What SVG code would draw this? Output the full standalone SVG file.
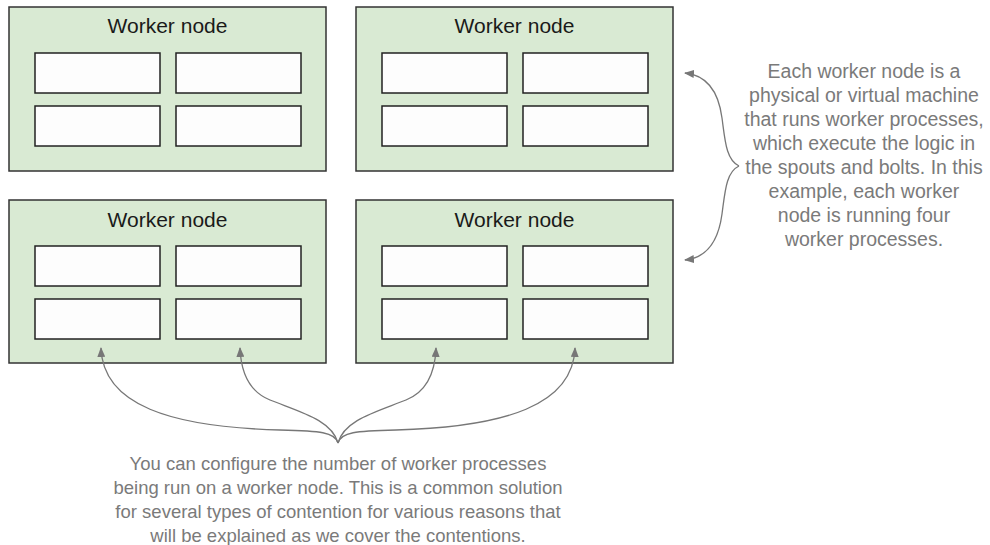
<svg xmlns="http://www.w3.org/2000/svg" width="990" height="545" viewBox="0 0 990 545">
  <defs>
    <style>
      .node { fill: #d9ead3; stroke: #333333; stroke-width: 1.5; }
      .proc { fill: #fdfdfd; stroke: #222222; stroke-width: 1.5; }
      .title { font-family: "Liberation Sans", Arial, sans-serif; font-size: 21px; fill: #1a1a1a; text-anchor: middle; }
      .note { font-family: "Liberation Sans", Arial, sans-serif; fill: #7a7a7a; text-anchor: middle; }
      .conn { fill: none; stroke: #777777; stroke-width: 1.3; marker-end: url(#arrow); }
    </style>
    <marker id="arrow" markerWidth="10" markerHeight="8" refX="9" refY="4" orient="auto" markerUnits="userSpaceOnUse">
      <path d="M0,0 L10,4 L0,8 Z" fill="#777777"/>
    </marker>
  </defs>

  <g id="node-top-left">
    <rect class="node" x="9" y="7" width="317" height="164"/>
    <text class="title" x="167.5" y="33">Worker node</text>
    <rect class="proc" x="35" y="53" width="125" height="40"/>
    <rect class="proc" x="176" y="53" width="125" height="40"/>
    <rect class="proc" x="35" y="106" width="125" height="40"/>
    <rect class="proc" x="176" y="106" width="125" height="40"/>
  </g>

  <g id="node-top-right">
    <rect class="node" x="356" y="7" width="317" height="164"/>
    <text class="title" x="514.5" y="33">Worker node</text>
    <rect class="proc" x="382" y="53" width="125" height="40"/>
    <rect class="proc" x="523" y="53" width="125" height="40"/>
    <rect class="proc" x="382" y="106" width="125" height="40"/>
    <rect class="proc" x="523" y="106" width="125" height="40"/>
  </g>

  <g id="node-bottom-left">
    <rect class="node" x="9" y="200" width="317" height="163"/>
    <text class="title" x="167.5" y="227">Worker node</text>
    <rect class="proc" x="35" y="246" width="125" height="40"/>
    <rect class="proc" x="176" y="246" width="125" height="40"/>
    <rect class="proc" x="35" y="299" width="125" height="40"/>
    <rect class="proc" x="176" y="299" width="125" height="40"/>
  </g>

  <g id="node-bottom-right">
    <rect class="node" x="356" y="200" width="317" height="163"/>
    <text class="title" x="514.5" y="227">Worker node</text>
    <rect class="proc" x="382" y="246" width="125" height="40"/>
    <rect class="proc" x="523" y="246" width="125" height="40"/>
    <rect class="proc" x="382" y="299" width="125" height="40"/>
    <rect class="proc" x="523" y="299" width="125" height="40"/>
  </g>

  <g id="connectors">
    <path class="conn" d="M739,166 C726,160 725,140 722,118 C718,88 705,75 685,73"/>
    <path class="conn" d="M739,166 C726,172 725,192 722,214 C718,244 705,258 685,260"/>
    <path class="conn" d="M338,443 C335,432 320,431 280,430 C170,427 103,405 101,348"/>
    <path class="conn" d="M338,443 C332,420 300,412 270,400 C250,392 241,375 240,348"/>
    <path class="conn" d="M338,443 C344,420 376,412 406,400 C426,392 435,375 436,348"/>
    <path class="conn" d="M338,443 C341,432 356,431 396,430 C506,427 573,405 575,348"/>
  </g>

  <g id="note-right">
    <text class="note" font-size="19.5" x="864" y="78">Each worker node is a</text>
    <text class="note" font-size="19.5" x="864" y="102">physical or virtual machine</text>
    <text class="note" font-size="19.5" x="864" y="126">that runs worker processes,</text>
    <text class="note" font-size="19.5" x="864" y="150">which execute the logic in</text>
    <text class="note" font-size="19.5" x="864" y="174">the spouts and bolts. In this</text>
    <text class="note" font-size="19.5" x="864" y="198">example, each worker</text>
    <text class="note" font-size="19.5" x="864" y="222">node is running four</text>
    <text class="note" font-size="19.5" x="864" y="246">worker processes.</text>
  </g>

  <g id="note-bottom">
    <text class="note" font-size="18.5" x="338" y="470">You can configure the number of worker processes</text>
    <text class="note" font-size="18.5" x="338" y="494">being run on a worker node. This is a common solution</text>
    <text class="note" font-size="18.5" x="338" y="518">for several types of contention for various reasons that</text>
    <text class="note" font-size="18.5" x="338" y="542">will be explained as we cover the contentions.</text>
  </g>
</svg>
